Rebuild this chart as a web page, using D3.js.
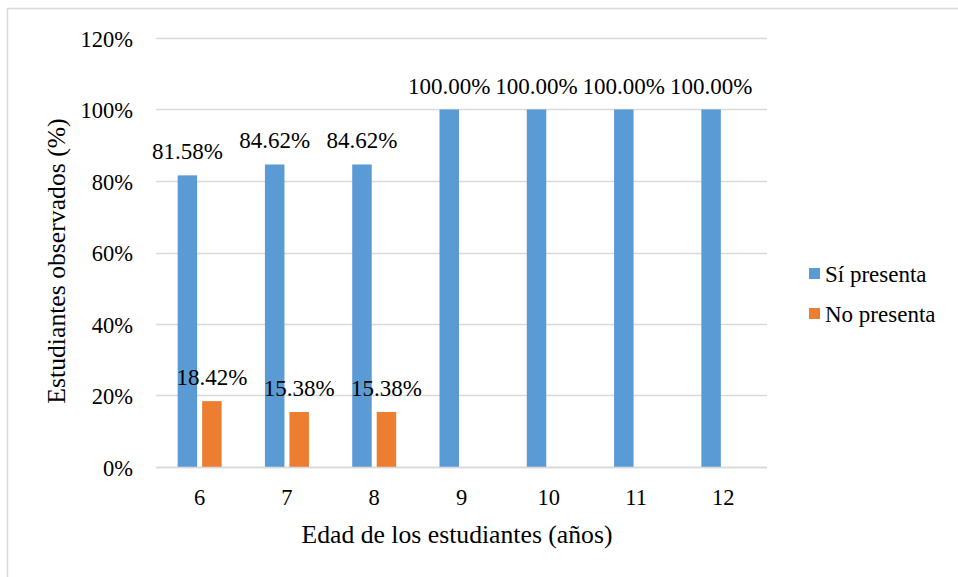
<!DOCTYPE html>
<html>
<head>
<meta charset="utf-8">
<script src="https://cdn.jsdelivr.net/npm/d3@7"></script>
<style>
  html, body { margin: 0; padding: 0; background: #fff; }
  svg { display: block; }
  svg text { font-family: "Liberation Serif", Tinos, "Times New Roman", Times, "DejaVu Serif", serif; fill: #000; }
</style>
</head>
<body>
<svg id="chart" width="958" height="577"></svg>
<script>
// Ages (years) on the x axis
const categories = ["6", "7", "8", "9", "10", "11", "12"];
// Share of observed students per age
const siPresenta = [0.8158, 0.8462, 0.8462, 1.0, 1.0, 1.0, 1.0];
const noPresenta = [0.1842, 0.1538, 0.1538, null, null, null, null];
const seriesNames = ["Sí presenta", "No presenta"];
const seriesColors = ["#5B9BD5", "#ED7D31"];
const yTicks = [0, 0.2, 0.4, 0.6, 0.8, 1.0, 1.2];
const xTitle = "Edad de los estudiantes (años)";
const yTitle = "Estudiantes observados (%)";

const FONT = '"Liberation Serif", Tinos, "Times New Roman", Times, "DejaVu Serif", serif';
const svg = d3.select("#chart");
const W = 958, H = 577;
const plot = { left: 156, right: 767, top: 38, bottom: 467 };

// Outer chart frame
svg.append("rect")
  .attr("x", 7.5).attr("y", 8.5)
  .attr("width", W + 20).attr("height", H + 20)
  .attr("fill", "#fff").attr("stroke", "#d9d9d9").attr("stroke-width", 1.5);

const x = d3.scaleBand().domain(categories).range([plot.left, plot.right]).padding(0);
const y = d3.scaleLinear().domain([0, 1.2]).range([plot.bottom, plot.top]);
const sub = d3.scaleBand().domain(seriesNames).range([-22, 22]).paddingInner(5 / 24.5).paddingOuter(0);
const pct0 = d3.format(".0%");
const pct2 = d3.format(".2%");

// Horizontal gridlines
svg.append("g").selectAll("line").data(yTicks).join("line")
  .attr("x1", plot.left).attr("x2", plot.right)
  .attr("y1", d => Math.round(y(d)) + 0.5).attr("y2", d => Math.round(y(d)) + 0.5)
  .attr("stroke", "#d9d9d9").attr("stroke-width", 1.3);

// Y axis tick labels
const yAxis = d3.axisLeft(y).tickValues(yTicks).tickFormat(pct0).tickSize(0).tickPadding(0);
const gy = svg.append("g").attr("transform", `translate(133,0)`).call(yAxis);
gy.attr("font-family", FONT).attr("font-size", 22.5);
gy.select(".domain").remove();
gy.selectAll("text").style("font-family", FONT).attr("font-size", 22.5).attr("fill", "#000").attr("dy", "0.36em");

// X axis tick labels
const xAxis = d3.axisBottom(x).tickSize(0).tickPadding(0);
const gx = svg.append("g").attr("transform", `translate(0,${plot.bottom})`).call(xAxis);
gx.attr("font-family", FONT).attr("font-size", 22.5);
gx.select(".domain").remove();
gx.selectAll("text").style("font-family", FONT).attr("font-size", 22.5).attr("fill", "#000")
  .attr("dy", null).attr("y", 38);

// Bars and data labels
const rows = categories.map((c, i) => ({ c, vals: [siPresenta[i], noPresenta[i]] }));
const groups = svg.append("g").selectAll("g").data(rows).join("g")
  .attr("transform", d => `translate(${x(d.c) + x.bandwidth() / 2},0)`);

groups.selectAll("rect")
  .data(d => d.vals.map((v, k) => ({ v, k })).filter(e => e.v != null))
  .join("rect")
  .attr("x", e => sub(seriesNames[e.k]))
  .attr("width", sub.bandwidth())
  .attr("y", e => y(e.v))
  .attr("height", e => y(0) - y(e.v))
  .attr("fill", e => seriesColors[e.k]);

groups.selectAll("text.lbl")
  .data(d => d.vals.map((v, k) => ({ v, k })).filter(e => e.v != null))
  .join("text").attr("class", "lbl")
  .attr("x", e => sub(seriesNames[e.k]) + sub.bandwidth() / 2)
  .attr("y", e => y(e.v) - 16)
  .attr("text-anchor", "middle")
  .style("font-family", FONT)
  .attr("font-size", 23)
  .text(e => pct2(e.v));

// Baseline
svg.append("line")
  .attr("x1", plot.left).attr("x2", plot.right)
  .attr("y1", plot.bottom + 0.5).attr("y2", plot.bottom + 0.5)
  .attr("stroke", "#d9d9d9").attr("stroke-width", 1.5);

// Axis titles
svg.append("text")
  .attr("x", 457).attr("y", 543)
  .attr("text-anchor", "middle").attr("font-size", 25.7)
  .style("font-family", FONT)
  .text(xTitle);

svg.append("text")
  .attr("transform", "translate(65,261) rotate(-90)")
  .attr("text-anchor", "middle").attr("font-size", 25.7)
  .style("font-family", FONT)
  .text(yTitle);

// Legend
const legend = svg.append("g").selectAll("g").data(seriesNames).join("g")
  .attr("transform", (d, i) => `translate(809,${282 + i * 40})`);
legend.append("rect")
  .attr("x", 0).attr("y", -14).attr("width", 11).attr("height", 11)
  .attr("fill", (d, i) => seriesColors[i]);
legend.append("text")
  .attr("x", 16).attr("y", 0)
  .style("font-family", FONT)
  .attr("font-size", 23)
  .text(d => d);
</script>
</body>
</html>
